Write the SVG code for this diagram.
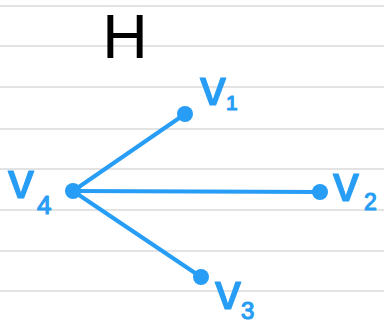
<svg xmlns="http://www.w3.org/2000/svg" width="384" height="326" viewBox="0 0 384 326">
  <style>
    .rule { stroke: #dadada; stroke-width: 1.5; }
    .edge { stroke: #279DF5; stroke-width: 4; stroke-linecap: round; fill: none; }
    .dot { fill: #279DF5; }
    .lbl { font-family: "Liberation Sans", "DejaVu Sans", sans-serif; fill: #279DF5; stroke: #279DF5; stroke-width: 1.2; stroke-linejoin: round; }
    .title { font-family: "Liberation Sans", "DejaVu Sans", sans-serif; fill: #000000; }
  </style>
  <rect width="384" height="326" fill="#ffffff"/>
  <g id="paper">
    <line class="rule" x1="0" y1="6" x2="384" y2="6"/>
    <line class="rule" x1="0" y1="46" x2="384" y2="46"/>
    <line class="rule" x1="0" y1="87" x2="384" y2="87"/>
    <line class="rule" x1="0" y1="129" x2="384" y2="129"/>
    <line class="rule" x1="0" y1="169" x2="384" y2="169"/>
    <line class="rule" x1="0" y1="210" x2="384" y2="210"/>
    <line class="rule" x1="0" y1="251" x2="384" y2="251"/>
    <line class="rule" x1="0" y1="291" x2="384" y2="291"/>
  </g>
  <text class="title" x="125" y="58" font-size="63" text-anchor="middle">H</text>
  <g id="edges">
    <line class="edge" x1="73" y1="191" x2="185" y2="114"/>
    <line class="edge" x1="73" y1="191" x2="320" y2="192"/>
    <line class="edge" x1="73" y1="191" x2="201" y2="277"/>
  </g>
  <g id="v1">
    <circle class="dot" cx="185" cy="114" r="8"/>
    <text class="lbl" x="200" y="105" font-size="52">v</text>
    <text class="lbl" x="226" y="110" font-size="21">1</text>
  </g>
  <g id="v2">
    <circle class="dot" cx="320" cy="192" r="8"/>
    <text class="lbl" x="333" y="201" font-size="52">v</text>
    <text class="lbl" x="364" y="210" font-size="23">2</text>
  </g>
  <g id="v3">
    <circle class="dot" cx="201" cy="277" r="8"/>
    <text class="lbl" x="215" y="309" font-size="52">v</text>
    <text class="lbl" x="241" y="319" font-size="24">3</text>
  </g>
  <g id="v4">
    <circle class="dot" cx="73" cy="191" r="8"/>
    <text class="lbl" x="8" y="198" font-size="52">v</text>
    <text class="lbl" x="37" y="214" font-size="26">4</text>
  </g>
</svg>
